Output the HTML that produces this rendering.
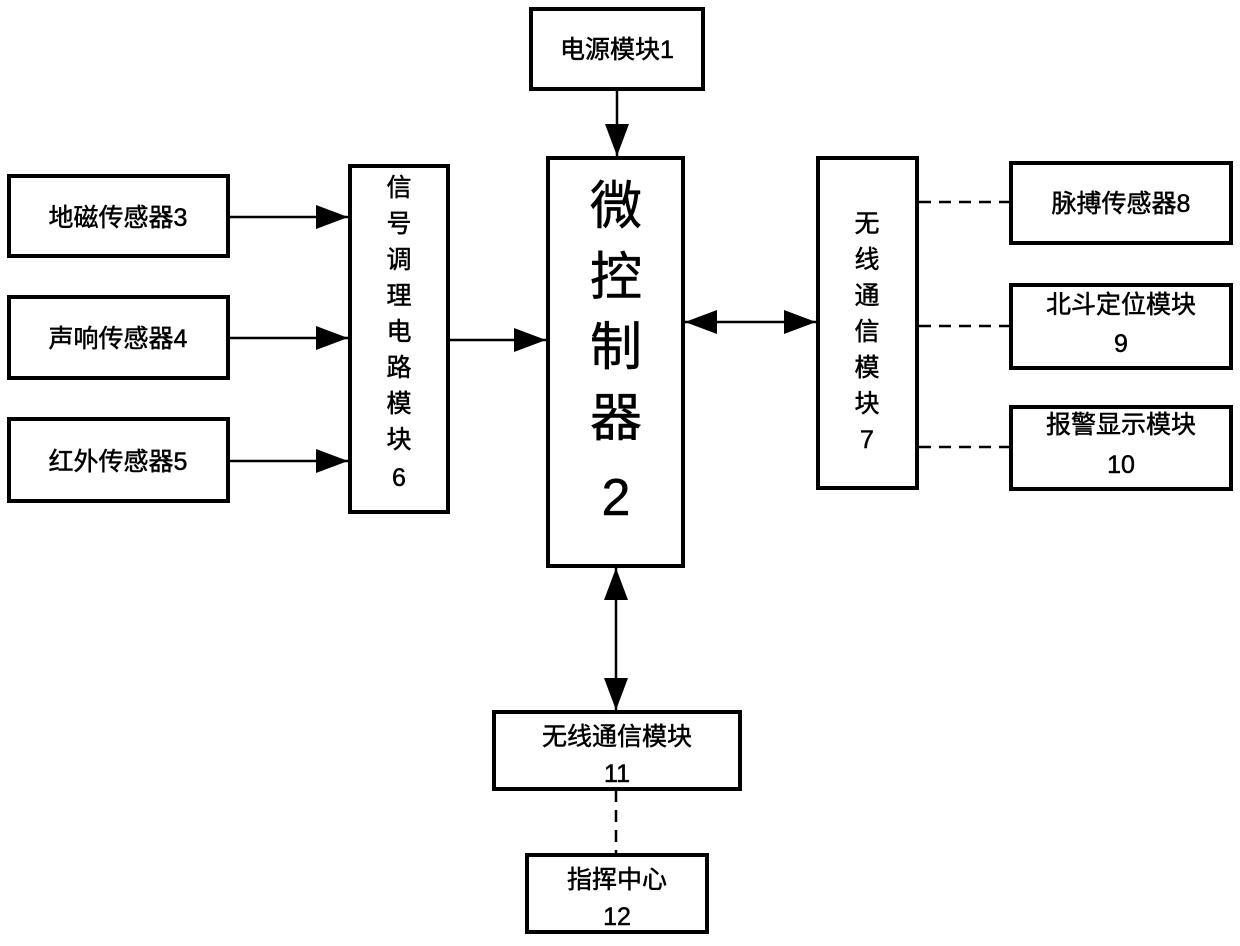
<!DOCTYPE html>
<html><head><meta charset="utf-8"><style>
html,body{margin:0;padding:0;background:#fff;}
svg{display:block;}
text{font-family:"Liberation Sans","Noto Sans CJK SC",sans-serif;fill:#000;text-anchor:middle;stroke:#000;stroke-width:0.5;}
</style></head><body>
<svg width="1240" height="946" viewBox="0 0 1240 946" xmlns="http://www.w3.org/2000/svg">
<defs>
<marker id="b" viewBox="0 0 10 10" refX="10" refY="5" markerWidth="32" markerHeight="24" markerUnits="userSpaceOnUse" orient="auto-start-reverse" preserveAspectRatio="none"><path d="M0,0 L10,5 L0,10 z" fill="#000"/></marker>
</defs>
<g fill="none" stroke="#000" stroke-width="4">
<rect x="531" y="9" width="172" height="80"/>
<rect x="548" y="158" width="135" height="408"/>
<rect x="9" y="176" width="219" height="80"/>
<rect x="9" y="297" width="219" height="81"/>
<rect x="9" y="419" width="219" height="82"/>
<rect x="350" y="166" width="98" height="346"/>
<rect x="818" y="158" width="99" height="330"/>
<rect x="1011" y="163" width="220" height="80"/>
<rect x="1011" y="285" width="220" height="83"/>
<rect x="1011" y="407" width="220" height="82"/>
<rect x="494" y="712" width="246" height="77"/>
<rect x="527" y="855" width="180" height="77"/>
</g>
<g stroke="#000" stroke-width="2.5" fill="none">
<line x1="617" y1="89" x2="617" y2="156" marker-end="url(#b)"/>
<line x1="228" y1="217" x2="348" y2="217" marker-end="url(#b)"/>
<line x1="228" y1="338" x2="348" y2="338" marker-end="url(#b)"/>
<line x1="228" y1="461" x2="348" y2="461" marker-end="url(#b)"/>
<line x1="448" y1="340" x2="546" y2="340" marker-end="url(#b)"/>
<line x1="685" y1="322" x2="816" y2="322" marker-start="url(#b)" marker-end="url(#b)"/>
<line x1="616" y1="568" x2="616" y2="710" marker-start="url(#b)" marker-end="url(#b)"/>
<g stroke-dasharray="12,8">
<line x1="919" y1="202" x2="1010" y2="202"/>
<line x1="919" y1="326" x2="1010" y2="326"/>
<line x1="919" y1="447" x2="1010" y2="447"/>
<line x1="616" y1="790" x2="616" y2="854"/>
</g>
</g>
<text x="617" y="58" font-size="25">电源模块1</text>
<text x="118" y="226" font-size="25">地磁传感器3</text>
<text x="118" y="347" font-size="25">声响传感器4</text>
<text x="118" y="470" font-size="25">红外传感器5</text>
<g font-size="25">
<text x="399" y="196">信</text><text x="399" y="232">号</text><text x="399" y="268">调</text><text x="399" y="304">理</text><text x="399" y="340">电</text><text x="399" y="376">路</text><text x="399" y="412">模</text><text x="399" y="448">块</text><text x="399" y="486">6</text>
</g>
<g font-size="52">
<text x="616" y="224">微</text><text x="616" y="295">控</text><text x="616" y="365">制</text><text x="616" y="436">器</text><text x="616" y="515">2</text>
</g>
<g font-size="25">
<text x="867" y="232">无</text><text x="867" y="268">线</text><text x="867" y="304">通</text><text x="867" y="340">信</text><text x="867" y="376">模</text><text x="867" y="412">块</text><text x="867" y="448">7</text>
</g>
<text x="1121" y="212" font-size="25">脉搏传感器8</text>
<text x="1121" y="313" font-size="25">北斗定位模块</text>
<text x="1121" y="352" font-size="25">9</text>
<text x="1121" y="433" font-size="25">报警显示模块</text>
<text x="1121" y="473" font-size="25">10</text>
<text x="617" y="745" font-size="25">无线通信模块</text>
<text x="617" y="782" font-size="25">11</text>
<text x="617" y="888" font-size="25">指挥中心</text>
<text x="617" y="925" font-size="25">12</text>
</svg>
</body></html>
